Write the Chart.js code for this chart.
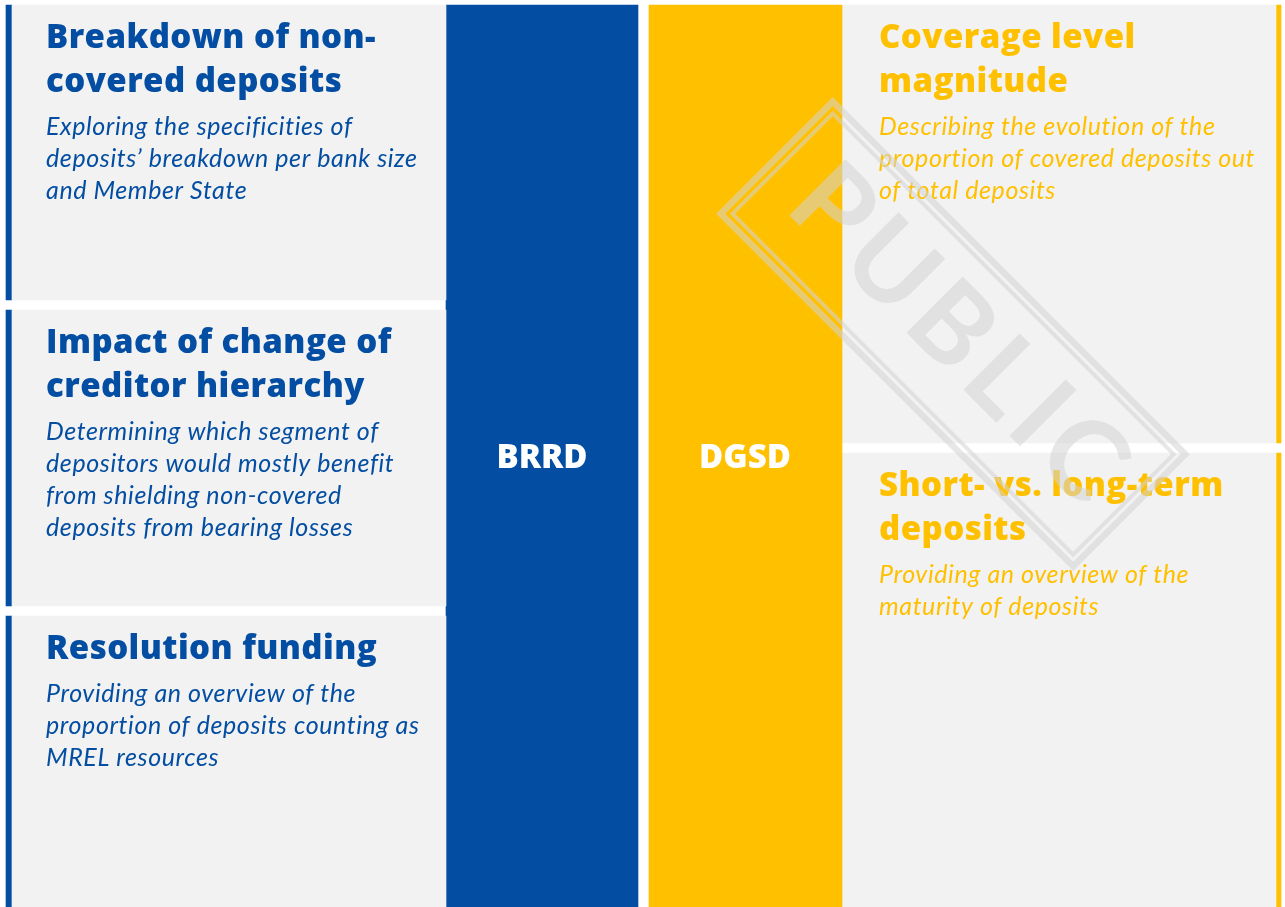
<!DOCTYPE html>
<html>
<head>
<meta charset="utf-8">
<script src="https://cdn.jsdelivr.net/npm/chart.js@4.4.1/dist/chart.umd.min.js"></script>
<style>
  html, body { margin: 0; padding: 0; background: #ffffff; }
  #wrap { width: 1285px; height: 907px; }
</style>
</head>
<body>
<div id="wrap"><canvas id="diagram" width="1285" height="907"></canvas></div>
<script>
// Pillars (the two central columns)
const pillars = ["BRRD", "DGSD"];

// BRRD side panels
const brrdTitles = [
  ["Breakdown of non-", "covered deposits"],
  ["Impact of change of", "creditor hierarchy"],
  ["Resolution funding"],
];
const brrdTexts = [
  ["Exploring the specificities of", "deposits\u2019 breakdown per bank size", "and Member State"],
  ["Determining which segment of", "depositors would mostly benefit", "from shielding non-covered", "deposits from bearing losses"],
  ["Providing an overview of the", "proportion of deposits counting as", "MREL resources"],
];

// DGSD side panels
const dgsdTitles = [
  ["Coverage level", "magnitude"],
  ["Short- vs. long-term", "deposits"],
];
const dgsdTexts = [
  ["Describing the evolution of the", "proportion of covered deposits out", "of total deposits"],
  ["Providing an overview of the", "maturity of deposits"],
];

const watermark = "PUBLIC";

// ---- layout (page units = pixels) ----
const BLUE = "#034ea2";
const YELLOW = "#ffc000";
const GREY = "#f2f2f2";
const TOP = 5;
const BOTTOM = 907;
const leftRows = [[TOP, 300], [310, 606], [616, BOTTOM]];
const rightRows = [[TOP, 443], [453, BOTTOM]];

function block(label, x0, x1, rows, color) {
  return {
    label: label,
    data: rows.map(r => ({ x: (x0 + x1) / 2, y: r })),
    barThickness: x1 - x0,
    backgroundColor: color,
    borderWidth: 0,
    grouped: false,
  };
}

const datasets = [
  block("BRRD panels", 12, 446, leftRows, GREY),
  block("BRRD edge", 6, 12, leftRows, BLUE),
  block(pillars[0], 446, 638, [[TOP, BOTTOM]], BLUE),
  block(pillars[1], 649, 842, [[TOP, BOTTOM]], YELLOW),
  block("DGSD panels", 842, 1276, rightRows, GREY),
  block("DGSD edge", 1276, 1281, rightRows, YELLOW),
];

function spacing(ctx, v) {
  if ("letterSpacing" in ctx) ctx.letterSpacing = v;
}

function drawPanel(ctx, x, y, left, top, titles, texts, color) {
  ctx.fillStyle = color;
  const px = x.getPixelForValue(left);
  let py = y.getPixelForValue(top) + 43;
  ctx.font = "800 33px 'Open Sans'";
  spacing(ctx, "0.45px");
  titles.forEach((t, i) => {
    if (i > 0) py += 44;
    ctx.fillText(t, px, py);
  });
  py += 43;
  ctx.font = "italic 400 25px Lato";
  spacing(ctx, "0.6px");
  texts.forEach((t, i) => {
    if (i > 0) py += 32;
    ctx.fillText(t, px, py);
  });
  spacing(ctx, "0px");
}

const panelText = {
  id: "panelText",
  afterDatasetsDraw(chart) {
    const { ctx, scales: { x, y } } = chart;
    ctx.save();
    ctx.textAlign = "left";
    ctx.textBaseline = "alphabetic";
    brrdTitles.forEach((t, i) => drawPanel(ctx, x, y, 46, leftRows[i][0], t, brrdTexts[i], BLUE));
    dgsdTitles.forEach((t, i) => drawPanel(ctx, x, y, 879, rightRows[i][0], t, dgsdTexts[i], YELLOW));

    ctx.fillStyle = "#ffffff";
    ctx.textAlign = "center";
    ctx.font = "800 33px 'Open Sans'";
    ctx.fillText(pillars[0], x.getPixelForValue(542), y.getPixelForValue(468));
    ctx.fillText(pillars[1], x.getPixelForValue(745), y.getPixelForValue(468));
    ctx.restore();
  },
  afterDraw(chart) {
    const { ctx, scales: { x, y } } = chart;
    ctx.save();
    ctx.translate(x.getPixelForValue(953), y.getPixelForValue(334));
    ctx.rotate(Math.PI / 4);
    ctx.strokeStyle = "rgba(211,211,211,0.55)";
    ctx.fillStyle = "rgba(211,211,211,0.55)";
    ctx.lineWidth = 6.5;
    ctx.strokeRect(-249.25, -79.25, 498.5, 158.5);
    ctx.lineWidth = 4;
    ctx.strokeRect(-241, -71, 482, 142);
    ctx.font = "bold 110px Lato";
    ctx.textAlign = "center";
    ctx.textBaseline = "alphabetic";
    spacing(ctx, "8px");
    ctx.fillText(watermark, 8, 32);
    ctx.restore();
  },
};

new Chart(document.getElementById("diagram"), {
  type: "bar",
  data: { datasets: datasets },
  options: {
    responsive: false,
    animation: false,
    layout: { padding: 0 },
    parsing: { xAxisKey: "x", yAxisKey: "y" },
    scales: {
      x: { type: "linear", min: 0, max: 1285, offset: false, display: false },
      y: { type: "linear", min: 0, max: 907, reverse: true, display: false },
    },
    plugins: {
      legend: { display: false },
      tooltip: { enabled: false },
    },
  },
  plugins: [panelText],
});
</script>
</body>
</html>
